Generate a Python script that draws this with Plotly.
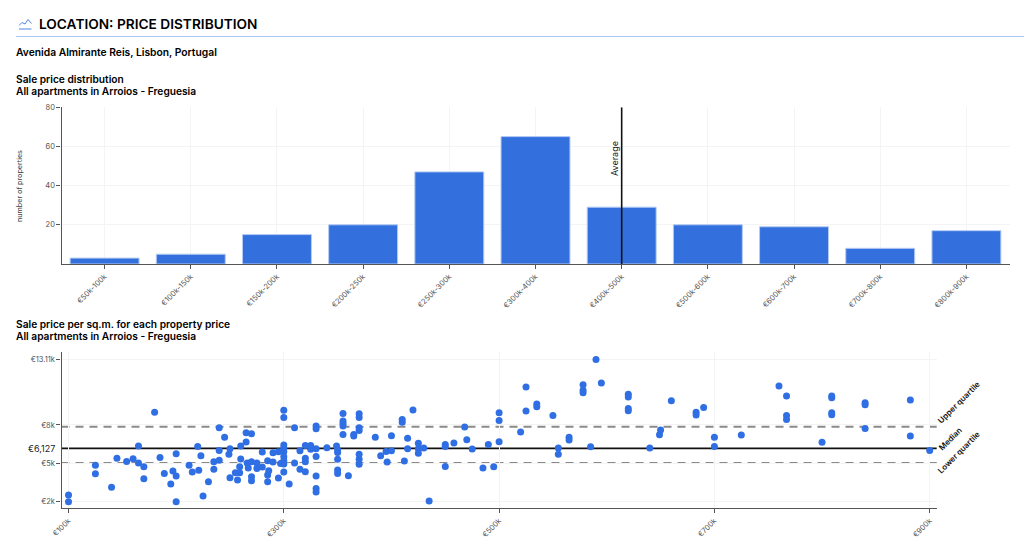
import plotly.graph_objects as go

W, H = 1024, 555
FONT = "Inter, 'Liberation Sans', sans-serif"

bar_categories = ["€50k-100k", "€100k-150k", "€150k-200k", "€200k-250k", "€250k-300k", "€300k-400k",
                  "€400k-500k", "€500k-600k", "€600k-700k", "€700k-800k", "€800k-900k"]
bar_counts = [3, 5, 15, 20, 47, 65, 29, 20, 19, 8, 17]
average_category = "€400k-500k"

# property price (thousand EUR) and price per sq.m. (thousand EUR)
scatter_price = [
    100, 100, 125, 125, 140, 145, 154, 160, 165, 165, 170, 170, 180, 185, 189, 195, 197, 200, 200, 200,
    212, 215, 220, 221, 223, 225, 230, 235, 235, 240, 240, 240, 245, 249, 250, 250, 255, 257, 259, 259,
    260, 260, 265, 265, 266, 267, 270, 270, 270, 270, 275, 275, 280, 280, 285, 285, 285, 286, 290, 290,
    295, 295, 297, 300, 300, 300, 300, 300, 300, 300, 300, 300, 305, 310, 310, 315, 315, 320, 320, 320,
    320, 325, 325, 330, 330, 330, 330, 330, 330, 330, 340, 349, 350, 350, 350, 350, 350, 355, 355, 355,
    355, 355, 360, 365, 365, 370, 370, 370, 370, 370, 370, 370, 385, 390, 395, 396, 400, 400, 410, 410,
    412, 415, 415, 420, 425, 425, 425, 430, 435, 450, 450, 450, 458, 468, 470, 475, 485, 490, 495, 500,
    500, 500, 520, 525, 525, 535, 535, 550, 555, 555, 565, 565, 578, 578, 578, 585, 590, 595, 620, 620,
    620, 620, 640, 649, 650, 660, 683, 683, 690, 700, 700, 725, 760, 767, 767, 767, 800, 809, 809, 809,
    809, 840, 840, 840, 882, 882, 900]
scatter_per_sqm = [
    2.52, 2.0, 4.84, 4.19, 3.12, 5.39, 5.15, 5.36, 6.35, 5.02, 4.73, 3.80, 9.0, 5.46, 4.21, 3.38, 4.40, 5.75, 4.01, 2.0,
    4.84, 4.32, 6.32, 4.45, 5.59, 2.44, 3.56, 5.13, 4.53, 7.78, 6.01, 5.23, 7.03, 5.70, 6.14, 3.88, 4.27, 3.69, 4.27, 4.73,
    6.35, 5.33, 6.66, 7.39, 5.02, 4.63, 7.31, 5.13, 3.95, 3.64, 5.02, 4.60, 5.88, 4.71, 3.56, 5.20, 4.08, 4.42, 5.83, 5.10,
    3.85, 5.91, 4.99, 9.14, 8.59, 6.43, 6.17, 5.91, 5.52, 5.20, 4.94, 4.32, 3.38, 7.78, 5.02, 5.98, 4.53, 6.40, 5.39, 5.13,
    4.34, 6.40, 6.09, 7.91, 7.70, 6.14, 5.54, 4.01, 3.04, 2.76, 6.22, 6.35, 6.04, 5.85, 5.31, 4.47, 4.21, 8.90, 8.30, 8.12,
    7.91, 7.26, 4.03, 7.26, 7.13, 8.88, 8.59, 7.78, 7.57, 5.70, 5.31, 4.92, 7.03, 5.59, 5.93, 5.10, 7.16, 5.98, 8.43, 8.20,
    5.18, 6.95, 6.14, 9.16, 6.56, 6.14, 5.78, 6.19, 2.05, 6.48, 6.32, 4.76, 6.58, 7.83, 6.84, 6.11, 4.63, 6.48, 4.73, 8.95,
    8.35, 6.69, 7.44, 10.96, 9.08, 9.63, 9.42, 8.74, 6.19, 5.70, 7.03, 6.82, 11.14, 10.72, 10.52, 6.30, 13.11, 11.27, 10.39, 10.18,
    9.29, 9.11, 6.19, 7.23, 7.60, 9.89, 9.0, 8.77, 9.37, 7.03, 6.32, 7.21, 11.04, 10.26, 8.74, 8.43, 6.64, 10.26, 10.13, 8.95,
    8.80, 9.73, 9.58, 7.73, 9.94, 7.13, 6.01]

median_value = 6.17
upper_quartile = 7.86
lower_quartile = 5.02
price_ticks = [100, 300, 500, 700, 900]
price_tick_labels = ["€100k", "€300k", "€500k", "€700k", "€900k"]
sqm_ticks = [2, 5, 8, 13.11]
sqm_tick_labels = ["€2k", "€5k", "€8k", "€13.11k"]
count_ticks = [20, 40, 60, 80]

BLUE = "#3370de"
AXIS = "#555555"
GRID = "#f4f4f4"


def xf(px):
    return px / W


def yf(py):
    return 1 - py / H


fig = go.Figure()
fig.add_trace(go.Bar(x=bar_categories, y=bar_counts, marker=dict(color=BLUE, line=dict(color="#b4cbf3", width=1)),
                     xaxis="x", yaxis="y", showlegend=False))
fig.add_trace(go.Scatter(x=scatter_price, y=scatter_per_sqm, mode="markers",
                         marker=dict(color="#2f6fe3", size=7, line=dict(width=0)),
                         xaxis="x2", yaxis="y2", showlegend=False, cliponaxis=False))

axis_common = dict(showline=True, linecolor=AXIS, linewidth=1.2, ticks="outside", ticklen=4, tickwidth=1,
                   tickcolor=AXIS, showgrid=True, gridcolor=GRID, gridwidth=1, zeroline=False, automargin=False,
                   tickfont=dict(family=FONT, size=7.5, color="#555555"))

fig.update_layout(
    template="none",
    width=W, height=H, margin=dict(l=0, r=0, t=0, b=0, pad=0), paper_bgcolor="white", plot_bgcolor="white",
    bargap=0.2, font=dict(family=FONT), showlegend=False,
    xaxis=dict(domain=[xf(61.5), xf(1009.5)], anchor="y", type="category", range=[-0.5, 10.5],
               tickangle=-45, categoryorder="array", categoryarray=bar_categories, **axis_common),
    yaxis=dict(domain=[yf(264), yf(107.2)], anchor="x", range=[0, 80], tickvals=count_ticks, **axis_common),
    xaxis2=dict(domain=[xf(61.5), xf(936.7)], anchor="y2", range=[93.5, 906.5], tickvals=price_ticks,
                ticktext=price_tick_labels, tickangle=-45, **axis_common),
    yaxis2=dict(domain=[yf(508.3), yf(352)], anchor="x2", range=[1.484, 13.70], tickvals=sqm_ticks,
                ticktext=sqm_tick_labels, **axis_common),
)

# reference lines
fig.add_shape(type="line", xref="x", yref="y", x0=average_category, x1=average_category, y0=0, y1=80,
              line=dict(color="#111111", width=1.6), layer="above")
for value in (upper_quartile, lower_quartile):
    fig.add_shape(type="line", xref="x2 domain", yref="y2", x0=0, x1=1, y0=value, y1=value,
                  line=dict(color="#8a8a8a", width=2, dash="8px,6px"), layer="below")
fig.add_shape(type="line", xref="x2 domain", yref="y2", x0=0, x1=1, y0=median_value, y1=median_value,
              line=dict(color="#111111", width=1.6), layer="below")

# header rule and icon
fig.add_shape(type="line", xref="paper", yref="paper", x0=xf(16), x1=1, y0=yf(36.5), y1=yf(36.5),
              line=dict(color="#a9c6f5", width=1))
fig.add_shape(type="line", xref="paper", yref="paper", x0=xf(19), x1=xf(31.5), y0=yf(29), y1=yf(29),
              line=dict(color="#4f86e6", width=1))
fig.add_shape(type="path", xref="paper", yref="paper",
              path=f"M {xf(19)} {yf(25.5)} L {xf(22)} {yf(22.5)} L {xf(25)} {yf(24)} L {xf(28)} {yf(19.5)} L {xf(31.5)} {yf(23.5)}",
              line=dict(color="#4f86e6", width=1))


def text(s, x, y, size, weight=400, color="#111111", angle=0, xanchor="left"):
    fig.add_annotation(text=s, xref="paper", yref="paper", x=xf(x), y=yf(y), showarrow=False, xanchor=xanchor,
                       yanchor="middle", textangle=angle, borderpad=0, borderwidth=0,
                       font=dict(family=FONT, size=size, color=color, weight=weight))


text("LOCATION: PRICE DISTRIBUTION", 39, 24.5, 13.7, 600, "#000000")
text("Avenida Almirante Reis, Lisbon, Portugal", 16, 52, 10.3, 600, "#000000")
text("Sale price distribution", 16, 79.5, 10.2, 600, "#000000")
text("All apartments in Arroios - Freguesia", 16, 91, 10.2, 600, "#000000")
text("Sale price per sq.m. for each property price", 16, 324, 10.2, 600, "#000000")
text("All apartments in Arroios - Freguesia", 16, 336, 10.2, 600, "#000000")
text("number of properties", 19, 186, 7.2, 400, "#444444", -90, "center")
text("Average", 615, 159, 9, 400, "#222222", -90, "center")
text("€6,127", 55, 448.5, 9, 400, "#222222", 0, "right")
text("Upper quartile", 959, 402, 8, 600, "#111111", -45, "center")
text("Median", 950, 439, 8, 600, "#111111", -45, "center")
text("Lower quartile", 959, 452, 8, 600, "#111111", -45, "center")

fig.write_html("out.html", config={"displayModeBar": False},
               post_script="document.body.style.margin='0';document.body.style.overflow='hidden';")
